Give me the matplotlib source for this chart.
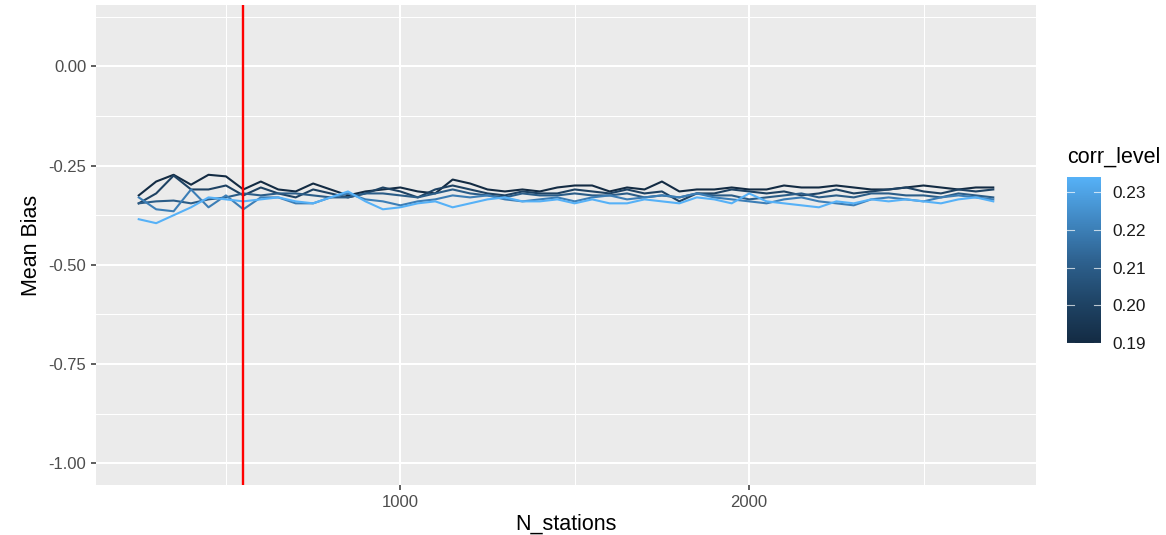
import numpy as np
import matplotlib
matplotlib.use('Agg')
import matplotlib.pyplot as plt
from matplotlib.colors import LinearSegmentedColormap, Normalize
from matplotlib.ticker import MultipleLocator

plt.rcParams['font.family'] = ['Liberation Sans', 'DejaVu Sans']

# data
n_stations = list(range(250, 2701, 50))
corr_levels = [0.19, 0.20, 0.21, 0.22, 0.234]

bias_019 = [-0.325, -0.29, -0.273, -0.298, -0.273, -0.277, -0.31, -0.29, -0.31, -0.315,
            -0.295, -0.31, -0.325, -0.315, -0.31, -0.305, -0.315, -0.32, -0.285, -0.295,
            -0.31, -0.315, -0.31, -0.315, -0.305, -0.30, -0.30, -0.315, -0.305, -0.31,
            -0.29, -0.315, -0.31, -0.31, -0.305, -0.31, -0.31, -0.30, -0.305, -0.305,
            -0.30, -0.305, -0.31, -0.31, -0.305, -0.30, -0.305, -0.31, -0.305, -0.305]
bias_020 = [-0.345, -0.32, -0.275, -0.31, -0.31, -0.30, -0.325, -0.305, -0.32, -0.33,
            -0.31, -0.32, -0.33, -0.32, -0.305, -0.315, -0.33, -0.31, -0.30, -0.31,
            -0.32, -0.325, -0.315, -0.32, -0.32, -0.31, -0.315, -0.32, -0.31, -0.32,
            -0.315, -0.34, -0.32, -0.32, -0.31, -0.315, -0.32, -0.315, -0.325, -0.32,
            -0.31, -0.32, -0.315, -0.31, -0.305, -0.315, -0.32, -0.31, -0.315, -0.31]
bias_021 = [-0.345, -0.34, -0.338, -0.345, -0.335, -0.33, -0.32, -0.325, -0.32, -0.32,
            -0.325, -0.33, -0.33, -0.32, -0.32, -0.325, -0.33, -0.32, -0.31, -0.32,
            -0.325, -0.33, -0.32, -0.325, -0.325, -0.32, -0.325, -0.325, -0.32, -0.33,
            -0.325, -0.33, -0.32, -0.325, -0.325, -0.335, -0.33, -0.325, -0.32, -0.33,
            -0.325, -0.33, -0.32, -0.32, -0.325, -0.325, -0.33, -0.32, -0.325, -0.33]
bias_022 = [-0.33, -0.36, -0.365, -0.31, -0.355, -0.325, -0.36, -0.33, -0.33, -0.345,
            -0.345, -0.33, -0.32, -0.335, -0.34, -0.35, -0.34, -0.335, -0.325, -0.33,
            -0.325, -0.335, -0.34, -0.335, -0.33, -0.34, -0.33, -0.325, -0.335, -0.33,
            -0.325, -0.33, -0.32, -0.33, -0.335, -0.34, -0.345, -0.335, -0.33, -0.34,
            -0.345, -0.35, -0.335, -0.33, -0.335, -0.34, -0.33, -0.325, -0.33, -0.335]
bias_023 = [-0.385, -0.395, -0.375, -0.355, -0.33, -0.335, -0.34, -0.335, -0.33, -0.34,
            -0.345, -0.33, -0.315, -0.34, -0.36, -0.355, -0.345, -0.34, -0.355, -0.345,
            -0.335, -0.33, -0.34, -0.34, -0.335, -0.345, -0.335, -0.345, -0.345, -0.335,
            -0.34, -0.345, -0.33, -0.335, -0.345, -0.32, -0.34, -0.345, -0.35, -0.355,
            -0.34, -0.345, -0.335, -0.34, -0.335, -0.34, -0.345, -0.335, -0.33, -0.34]
bias_series = [bias_019, bias_020, bias_021, bias_022, bias_023]
cutoff = 550

cmap = LinearSegmentedColormap.from_list('gg', ['#132B43', '#1F4466', '#2E6290', '#4189C4', '#56B1F7'])
norm = Normalize(vmin=0.19, vmax=0.234)

fig = plt.figure(figsize=(11.66, 5.35), dpi=100)
ax = fig.add_axes([96/1166, 50/535, 940/1166, 480/535])
ax.set_facecolor('#EBEBEB')

for c, b in zip(corr_levels, bias_series):
    ax.plot(n_stations, b, color=cmap(norm(c)), lw=1.5, zorder=3)
ax.axvline(cutoff, color='red', lw=1.7, zorder=4)

ax.set_xlim(127.5, 2822.5)
ax.set_ylim(-1.055, 0.155)
ax.set_xticks([1000, 2000])
ax.xaxis.set_minor_locator(MultipleLocator(500))
ax.set_yticks([0.0, -0.25, -0.5, -0.75, -1.0])
ax.set_yticklabels(['0.00', '-0.25', '-0.50', '-0.75', '-1.00'])
ax.yaxis.set_minor_locator(MultipleLocator(0.125))
ax.grid(which='major', color='white', lw=1.5, zorder=0)
ax.grid(which='minor', color='white', lw=0.75, zorder=0)
ax.set_axisbelow(True)
for s in ax.spines.values():
    s.set_visible(False)
ax.tick_params(which='major', length=3.9, width=1.1, color='#333333', labelcolor='#4D4D4D',
               labelsize=12, pad=3)
ax.tick_params(which='minor', length=0)
ax.set_xlabel('N_stations', fontsize=15.5, color='black', labelpad=3)
ax.set_ylabel('Mean Bias', fontsize=15.5, color='black', labelpad=5)

# colourbar legend
cax = fig.add_axes([1067/1166, (535-343)/535, 34/1166, 166/535])
cb = fig.colorbar(plt.cm.ScalarMappable(norm=norm, cmap=cmap), cax=cax)
cb.outline.set_visible(False)
ticks = [0.19, 0.20, 0.21, 0.22, 0.23]
cb.set_ticks(ticks)
cb.set_ticklabels(['0.19', '0.20', '0.21', '0.22', '0.23'])
cax.tick_params(length=0, labelsize=12.4, labelcolor='#1A1A1A', pad=8)
for t in ticks:
    cax.plot([0, 0.2], [t, t], color='white', lw=0.8, alpha=0.7, transform=cax.get_yaxis_transform())
    cax.plot([0.8, 1], [t, t], color='white', lw=0.8, alpha=0.7, transform=cax.get_yaxis_transform())
fig.text(1067/1166, 1 - 157/535, 'corr_level', fontsize=15.5, va='center', ha='left')

fig.savefig('out.png', dpi=100)
